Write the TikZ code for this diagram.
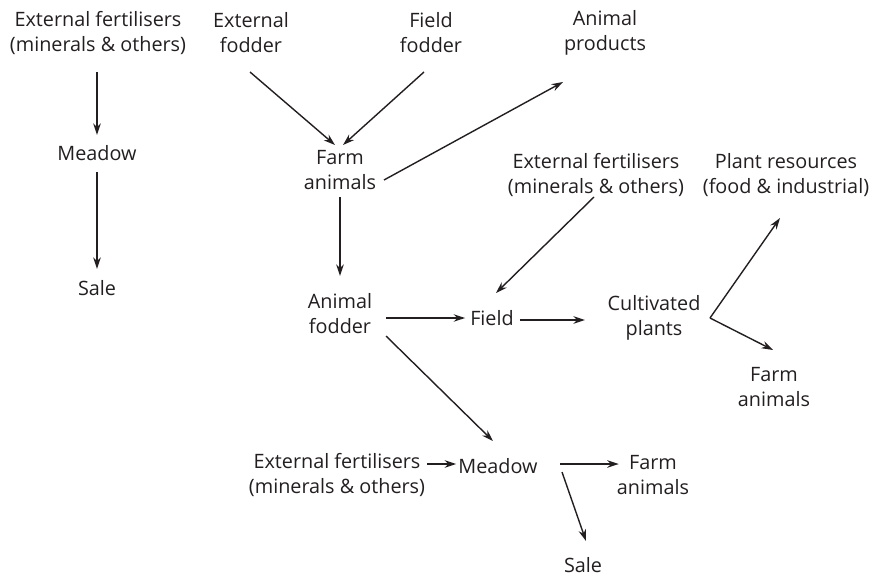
\documentclass[tikz,border=0pt]{standalone}
\usepackage{fontspec}
\setmainfont{Open Sans}
\usetikzlibrary{arrows.meta,calc}
\definecolor{ink}{HTML}{231F20}
\begin{document}
\begin{tikzpicture}[x=1pt,y=-1pt,
  lbl/.style={align=center,inner sep=0pt,font=\fontsize{19.8}{25}\selectfont,text=ink},
  arr/.style={-{Stealth[length=11.5pt,width=7.5pt]},line width=1.4pt,ink}]
\useasboundingbox (0,0) rectangle (883,583);
\node[lbl] (ef1) at (98,33) {External fertilisers\\(minerals \& others)};
\node[lbl] (m1) at (97,153) {Meadow};
\node[lbl] (s1) at (97,288) {Sale};
\node[lbl] (exf) at (251,33) {External\\fodder};
\node[lbl] (ff) at (431,33) {Field\\fodder};
\node[lbl] (ap) at (605,33) {Animal\\products};
\node[lbl] (fa) at (340,170) {Farm\\animals};
\node[lbl] (af) at (340,314) {Animal\\fodder};
\node[lbl] (ef2) at (596,175) {External fertilisers\\(minerals \& others)};
\node[lbl] (pr) at (786,175) {Plant resources\\(food \& industrial)};
\node[lbl] (fi) at (492,318) {Field};
\node[lbl] (cp) at (654,318) {Cultivated\\plants};
\node[lbl] (fa2) at (774,387) {Farm\\animals};
\node[lbl] (ef3) at (337,475) {External fertilisers\\(minerals \& others)};
\node[lbl] (m3) at (498,466) {Meadow};
\node[lbl] (fa3) at (653,475) {Farm\\animals};
\node[lbl] (s3) at (583,565) {Sale};
\coordinate (cpb) at ($(cp)+(56,0)$);
\draw[arr] ($(ef1)+(-1,39)$) -- ($(m1)+(0,-18)$);
\draw[arr] ($(m1)+(0,19)$) -- ($(s1)+(0,-19)$);
\draw[arr] ($(exf)+(-1,39)$) -- ($(fa)+(-5,-25)$);
\draw[arr] ($(ff)+(-7,39)$) -- ($(fa)+(3,-25)$);
\draw[arr] ($(fa)+(44,10)$) -- ($(ap)+(-42,49)$);
\draw[arr] ($(fa)+(0,27)$) -- ($(af)+(0,-38)$);
\draw[arr] ($(af)+(46,4)$) -- ($(fi.west)+(-5,0)$);
\draw[arr] ($(af)+(46,22)$) -- ($(m3)+(-5,-25)$);
\draw[arr] ($(ef2)+(-2,22)$) -- ($(fi)+(4,-25)$);
\draw[arr] ($(fi.east)+(6,2)$) -- ($(cp)+(-69,2)$);
\draw[arr] (cpb) -- ($(pr)+(-6,43)$);
\draw[arr] (cpb) -- ($(fa2)+(-1,-37)$);
\draw[arr] ($(ef3.east)+(2,-11)$) -- ($(m3.west)+(-2,-2)$);
\draw[arr] ($(m3)+(62,-2)$) -- ($(fa3.west)+(2,-11)$);
\draw[arr] ($(m3)+(64,6)$) -- ($(s3)+(3,-24)$);
\end{tikzpicture}
\end{document}
